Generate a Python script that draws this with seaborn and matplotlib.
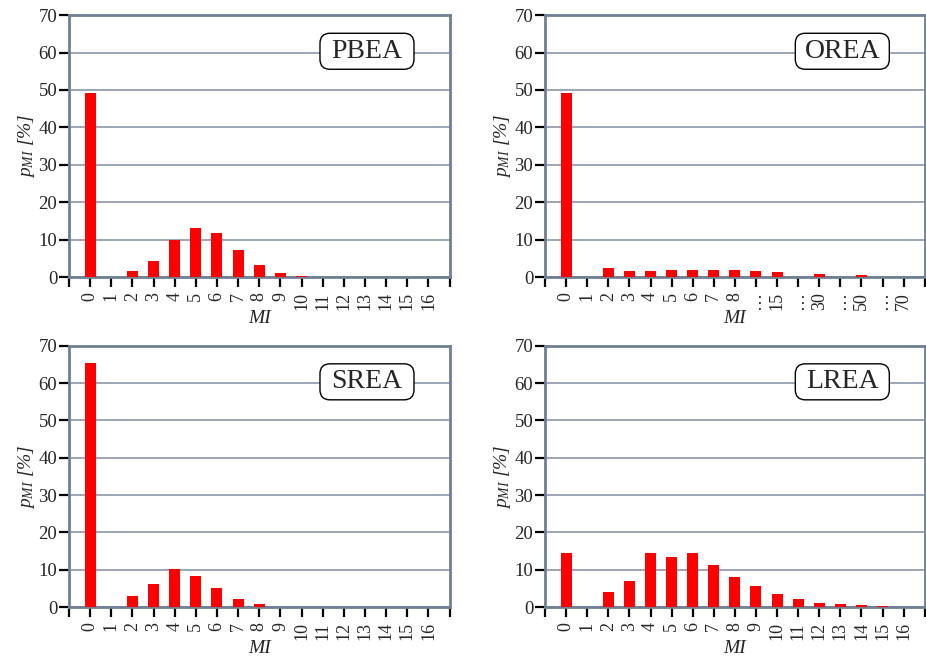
import matplotlib
matplotlib.use("Agg")
import matplotlib.pyplot as plt
from matplotlib.patches import FancyBboxPatch
import seaborn as sns

# MI categories and per-method probabilities p_MI [%]
mi_labels = [str(i) for i in range(17)]
orea_labels = ["0", "1", "2", "3", "4", "5", "6", "7", "8", "…", "15", "…", "30", "…", "50", "…", "70"]

pbea = [49.2, 0, 1.6, 4.4, 9.8, 13.2, 11.7, 7.1, 3.3, 1.0, 0.2, 0.05, 0, 0, 0, 0, 0]
orea = [49.2, 0, 2.3, 1.5, 1.5, 1.9, 1.9, 2.0, 1.8, 1.7, 1.3, 0, 0.7, 0, 0.6, 0, 0.1]
srea = [65.3, 0, 2.9, 6.2, 10.2, 8.3, 5.1, 2.2, 0.8, 0, 0, 0, 0, 0, 0, 0, 0]
lrea = [14.6, 0, 4.0, 7.0, 14.5, 13.3, 14.4, 11.3, 8.0, 5.5, 3.5, 2.1, 1.2, 0.8, 0.5, 0.3, 0]

sns.set_theme(style="white")
plt.rcParams["font.family"] = ["Liberation Serif", "DejaVu Serif"]
plt.rcParams["mathtext.fontset"] = "custom"
plt.rcParams["mathtext.rm"] = "Liberation Serif"
plt.rcParams["mathtext.it"] = "Liberation Serif:italic"

SPINE = "#6f8095"
GRID = "#8090a4"

fig = plt.figure(figsize=(9.26, 6.58), dpi=100)

panels = [
    ("PBEA", pbea, mi_labels, [0.0745, 0.579, 0.411, 0.398]),
    ("OREA", orea, orea_labels, [0.5886, 0.579, 0.410, 0.398]),
    ("SREA", srea, mi_labels, [0.0745, 0.0775, 0.411, 0.397]),
    ("LREA", lrea, mi_labels, [0.5886, 0.0775, 0.410, 0.397]),
]

for name, values, labels, rect in panels:
    ax = fig.add_axes(rect)
    cats = [str(i) for i in range(len(values))]
    sns.barplot(x=cats, y=values, order=cats, color="#ff0000", saturation=1,
                width=0.52, linewidth=0, ax=ax, zorder=3)

    ax.set_xlim(-1, 17)
    ax.set_ylim(0, 70)
    ax.set_xticks(range(-1, 18))
    ax.set_xticklabels([""] + labels + [""], rotation=90, fontsize=13)
    ax.set_yticks(range(0, 71, 10))
    ax.set_yticklabels([str(v) for v in range(0, 71, 10)], fontsize=13.5)

    ax.yaxis.grid(True, color=GRID, linewidth=1.1, zorder=0)
    ax.xaxis.grid(False)
    ax.set_axisbelow(True)
    for s in ax.spines.values():
        s.set_color(SPINE)
        s.set_linewidth(2)
        s.set_visible(True)
    ax.tick_params(axis="both", direction="out", length=7, width=1.6,
                   color="black", pad=1.5, bottom=True, left=True)
    ax.tick_params(axis="x", pad=4)

    ax.set_xlabel("MI", fontstyle="italic", fontsize=14, labelpad=0)
    ax.set_ylabel(r"$p_{MI}$ [%]", fontstyle="italic", fontsize=14, labelpad=1)

    # fixed-size rounded label box
    w_px = ax.bbox.width
    h_px = ax.bbox.height
    bw, bh = 94 / w_px, 36 / h_px
    cx, cy = 0.783, 0.862
    box = FancyBboxPatch((cx - bw / 2, cy - bh / 2), bw, bh,
                         boxstyle=f"round,pad=0,rounding_size={10 / w_px}",
                         mutation_aspect=w_px / h_px,
                         transform=ax.transAxes, facecolor="white",
                         edgecolor="black", linewidth=1.0, zorder=5)
    ax.add_patch(box)
    ax.text(cx, cy, name, transform=ax.transAxes, ha="center", va="center",
            fontsize=20, zorder=6)

fig.savefig("out.png", dpi=100)
